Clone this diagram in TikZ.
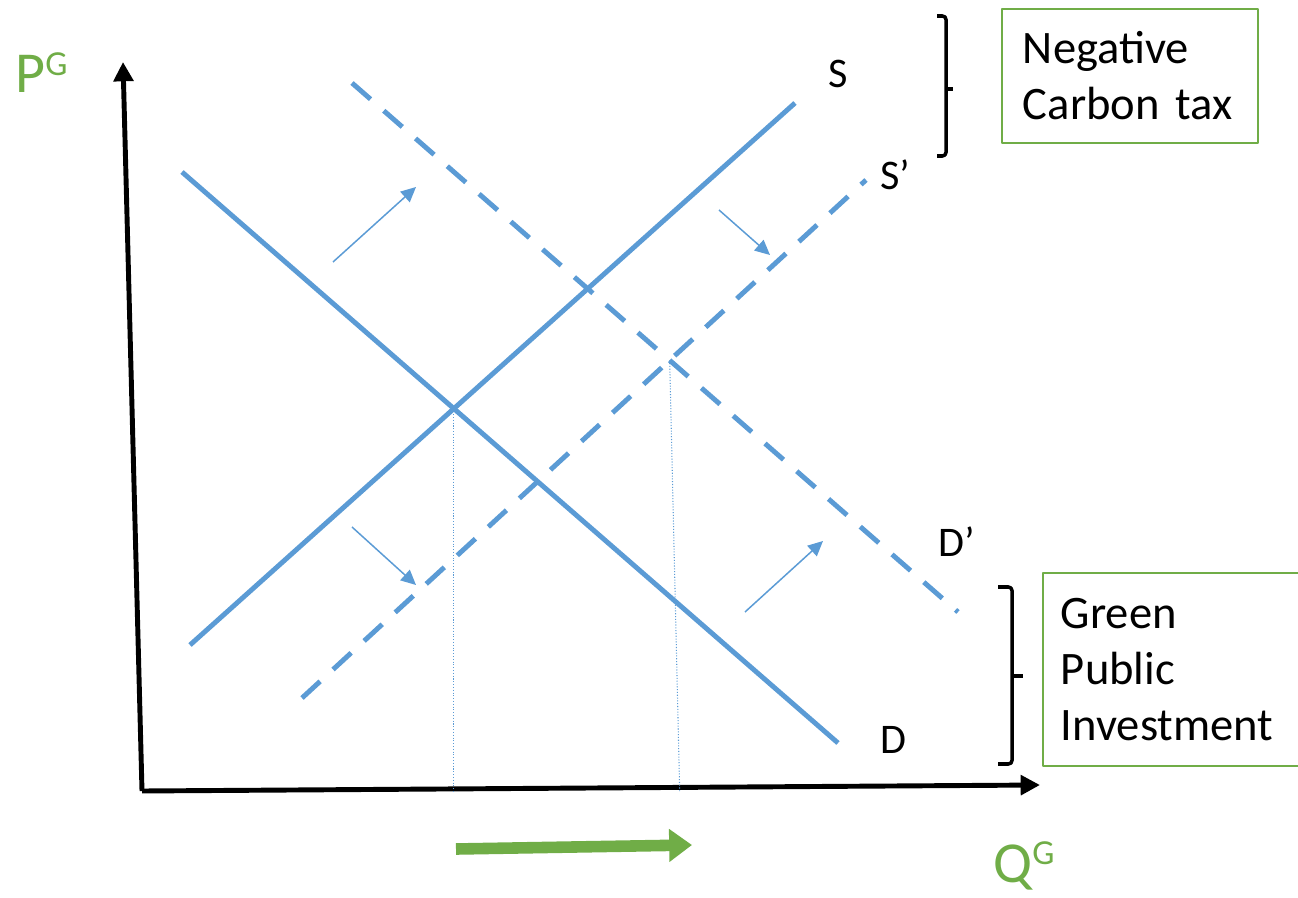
\documentclass[tikz,border=0pt]{standalone}
\usepackage{fontspec}
\setmainfont{Carlito}
\usetikzlibrary{arrows.meta,intersections,calc}
\definecolor{figink}{HTML}{000000}
\definecolor{figblue}{HTML}{5B9BD5}
\definecolor{figgreen}{HTML}{70AD47}

\begin{document}
\begin{tikzpicture}[x=0.02cm, y=-0.02cm, line join=round,
  curve/.style={figblue, line width=2.8pt},
  shifted/.style={curve, dash pattern=on 14pt off 10pt},
  nudge/.style={figblue, line width=0.85pt, -{Triangle[length=8.5pt, width=8pt]}},
  guide/.style={figblue, line width=0.6pt, densely dotted},
  lbl/.style={figink, font=\fontsize{24}{28}\selectfont, anchor=base west, inner sep=0pt},
  axlbl/.style={figgreen, font=\fontsize{33}{36}\selectfont, anchor=base west, inner sep=0pt},
  policy/.style={draw=figgreen, line width=1.1pt, align=left, anchor=north west,
    font=\fontsize{26.5}{32}\selectfont}]
  \useasboundingbox (0,0) rectangle (1298,898);

  % axes
  \coordinate (O) at (142,791);
  \coordinate (Ytop) at (123,62);
  \coordinate (Xend) at (1040,785);
  \draw[figink, line width=2.8pt, -{Triangle[length=11pt, width=11pt]}] (O) -- (Ytop);
  \draw[figink, line width=2.8pt, -{Triangle[length=11pt, width=11pt]}] (O) -- (Xend);
  \node[axlbl] (PG) at (15,93) {P\raisebox{10pt}{\fontsize{20}{20}\selectfont G}};
  \node[axlbl] (QG) at (993,882) {Q\raisebox{10pt}{\fontsize{20}{20}\selectfont G}};

  % supply and demand, before and after the shift
  \coordinate (S0) at (190,645);   \coordinate (S1) at (795,103);
  \coordinate (D0) at (182,172);   \coordinate (D1) at (838,743);
  \coordinate (Sp0) at (302,698);  \coordinate (Sp1) at (866,180);
  \coordinate (Dp0) at (352,83);   \coordinate (Dp1) at (958,612);
  \draw[curve, name path=S] (S0) -- (S1);
  \draw[curve, name path=D] (D0) -- (D1);
  \draw[shifted, name path=Sp] (Sp0) -- (Sp1);
  \draw[shifted, name path=Dp] (Dp0) -- (Dp1);

  % equilibria dropped onto the quantity axis
  \path[name intersections={of=S and D, by=E}];
  \path[name intersections={of=Sp and Dp, by=Ep}];
  \draw[guide] (E) -- (E |- O);
  \draw[guide] (Ep) -- ($(Ep |- O)+(10,0)$);

  % direction of each shift
  \foreach \ax/\ay/\bx/\by in {333/262/416/187, 719/210/770/255, 352/527/416/585, 745/612/823/541}
    \draw[nudge] (\ax,\ay) -- (\bx,\by);

  % rise in quantity
  \draw[figgreen, line width=6.6pt, -{Triangle[length=13pt, width=18pt]}] (456,849) -- (692,845);

  % curve names
  \node[lbl] (Slab)  at (828,88)  {S};
  \node[lbl] (Splab) at (880,190) {S’};
  \node[lbl] (Dplab) at (938,556) {D’};
  \node[lbl] (Dlab)  at (880,753) {D};

  % brackets and policy boxes
  \draw[figink, line width=2pt, rounded corners=2pt] (937,16) -- (946,16) -- (946,156) -- (937,156);
  \draw[figink, line width=2pt] (946,89) -- (953,89);
  \draw[figink, line width=2pt, rounded corners=2pt] (998,587) -- (1012,587) -- (1012,764) -- (998,764);
  \draw[figink, line width=2pt] (1012,676) -- (1023,676);

  \node[policy, minimum width=5.04cm, minimum height=2.68cm, text width=4.28cm, inner xsep=0.42cm]
    (tax) at (1001,8) {Negative\\Carbon tax};
  \node[policy, minimum width=5.2cm, minimum height=3.86cm, text width=4.48cm, inner xsep=0.36cm]
    (invest) at (1042,572) {Green\\Public\\Investment};
\end{tikzpicture}
\end{document}
